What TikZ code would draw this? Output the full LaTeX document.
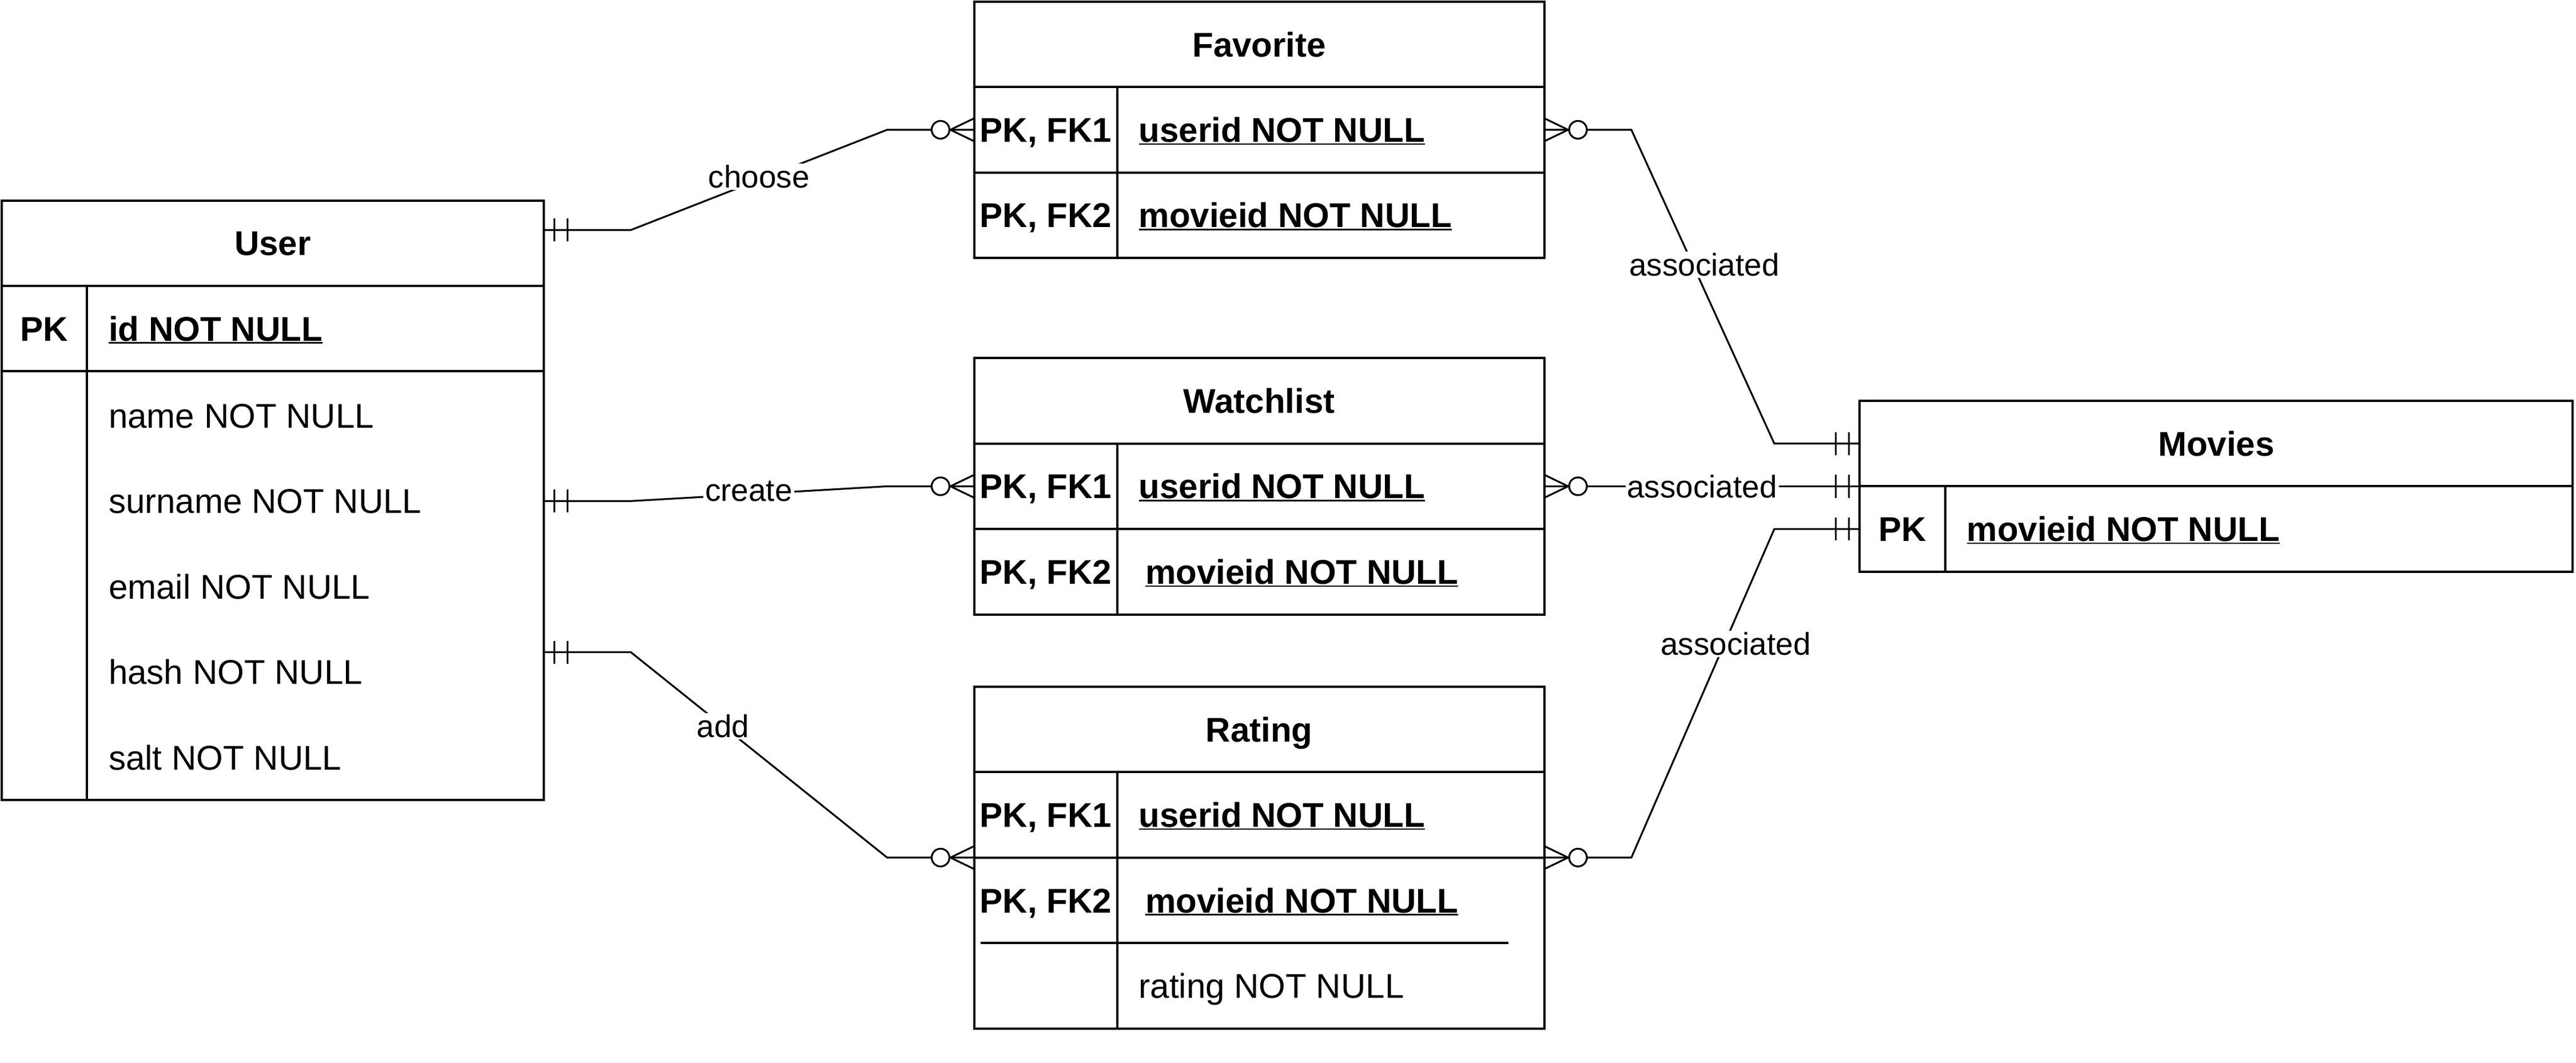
\documentclass[tikz,border=0pt]{standalone}
\usepackage{fontspec}
\setmainfont{Liberation Sans}
\usetikzlibrary{positioning}

\newcommand{\erfont}{\fontsize{20.9}{25}\selectfont}
\newcommand{\ulkey}[1]{\setbox0\hbox{#1}\rlap{\rule[-1.6pt]{\wd0}{0.8pt}}\box0}

\tikzset{
  tbl/.style={draw, line width=1.4pt, minimum height=52pt, inner sep=0pt, outer sep=0pt,
    anchor=north west, text height=15pt, text depth=0pt},
  head/.style={tbl, font=\erfont\bfseries},
  fld/.style={anchor=west, inner sep=0pt, text height=15pt, text depth=0pt},
  bfld/.style={fld, font=\erfont\bfseries},
  rel/.style={line width=1.1pt},
  lbl/.style={fill=white, inner sep=1pt, font=\fontsize{19.1}{22}\selectfont},
  pics/zmany/.style={code={
    \draw[rel] (0,7) -- (14.5,0) -- (0,-7);
    \draw[rel, fill=white] (20.5,0) circle (5.4);}},
  pics/mone/.style={code={
    \draw[rel] (6.5,-7) -- (6.5,7) (14.5,-7) -- (14.5,7);}}
}

\begin{document}
\begin{tikzpicture}[x=1pt, y=-1pt, font=\erfont]
\useasboundingbox (0,0) rectangle (1568,647);

% User
\node[head, minimum width=330pt] (usr) at (1,122) {User};
\node[head, minimum width=52pt] (usr0k) at (usr.south west) {PK};
\node[tbl, minimum width=278pt] (usr0f) at (usr0k.north east) {};
\node[bfld] (usr0) at ([xshift=13pt]usr0f.west) {\ulkey{id NOT NULL}};
\node[tbl, minimum width=52pt, minimum height=261pt] (usrk) at (usr0k.south west) {};
\node[tbl, minimum width=278pt, minimum height=261pt] (usrb) at (usrk.north east) {};
\foreach \f [count=\i] in {name,surname,email,hash,salt}
  \node[fld] (usr\i) at (66,201+52*\i) {\f\ NOT NULL};

% link tables
\foreach \t/\n/\y in {fav/Favorite/1, wat/Watchlist/218, rat/Rating/418}
{
\node[head, minimum width=347pt] (\t) at (593,\y) {\n};
\node[head, minimum width=87pt] (\t1k) at (\t.south west) {PK, FK1};
\node[tbl, minimum width=260pt] (\t1f) at (\t1k.north east) {};
\node[bfld] (\t1) at ([xshift=13pt]\t1f.west) {\ulkey{userid NOT NULL}};
}
\foreach \t/\s in {fav/13, wat/17}
{
\node[head, minimum width=87pt] (\t2k) at (\t1k.south west) {PK, FK2};
\node[tbl, minimum width=260pt] (\t2f) at (\t2k.north east) {};
\node[bfld] (\t2) at ([xshift=\s pt]\t2f.west) {\ulkey{movieid NOT NULL}};
}

% Rating, last rows
\node[tbl, minimum width=87pt, minimum height=104pt] (rat2k) at (rat1k.south west) {};
\node[tbl, minimum width=260pt, minimum height=104pt] (rat2f) at (rat2k.north east) {};
\draw[line width=1.4pt] ([xshift=4pt]rat2k.west) -- ([xshift=-22pt]rat2f.east);
\node[bfld, anchor=center] (rat2kt) at ([yshift=26pt]rat2k.center) {PK, FK2};
\node[bfld] (rat2) at ([shift={(17pt,26pt)}]rat2f.west) {\ulkey{movieid NOT NULL}};
\node[fld] (rat3) at ([shift={(13pt,-26pt)}]rat2f.west) {rating NOT NULL};

% Movies
\node[head, minimum width=434pt] (mov) at (1132,244) {Movies};
\node[head, minimum width=52pt] (mov1k) at (mov.south west) {PK};
\node[tbl, minimum width=382pt] (mov1f) at (mov1k.north east) {};
\node[bfld] (mov1) at ([xshift=13pt]mov1f.west) {\ulkey{movieid NOT NULL}};

% relations
\path (usr4.west -| usrb.east) ++(0,-12) coordinate (addst);
\draw[rel] ([yshift=8pt]usr.east) -- ++(53,0) -- node[lbl, yshift=2pt]{choose} ([xshift=-53pt]fav1k.west) -- (fav1k.west);
\draw[rel] (usrb.east |- usr2) -- ++(53,0) -- node[lbl, pos=0.46, yshift=2pt]{create} ([xshift=-53pt]wat1k.west) -- (wat1k.west);
\draw[rel] (addst) -- ++(53,0) -- node[lbl, pos=0.36]{add} ([xshift=-53pt]rat1k.south west) -- (rat1k.south west);
\draw[rel] (fav1f.east) -- ++(53,0) -- node[lbl, pos=0.43, xshift=7pt]{associated} ([xshift=-52pt]mov.west) -- (mov.west);
\draw[rel] (wat1f.east) -- node[lbl]{associated} (mov.south west);
\draw[rel] (rat1f.south east) -- ++(53,0) -- node[lbl, pos=0.65, xshift=7pt]{associated} ([xshift=-52pt]mov1k.west) -- (mov1k.west);

% ends
\pic at ([yshift=8pt]usr.east) {mone};
\pic at (usrb.east |- usr2) {mone};
\pic at (addst) {mone};
\foreach \e in {fav1k.west, wat1k.west, rat1k.south west}
  \pic[rotate=180] at (\e) {zmany};
\foreach \e in {fav1f.east, wat1f.east, rat1f.south east}
  \pic at (\e) {zmany};
\foreach \e in {mov.west, mov.south west, mov1k.west}
  \pic[rotate=180] at (\e) {mone};
\end{tikzpicture}
\end{document}
